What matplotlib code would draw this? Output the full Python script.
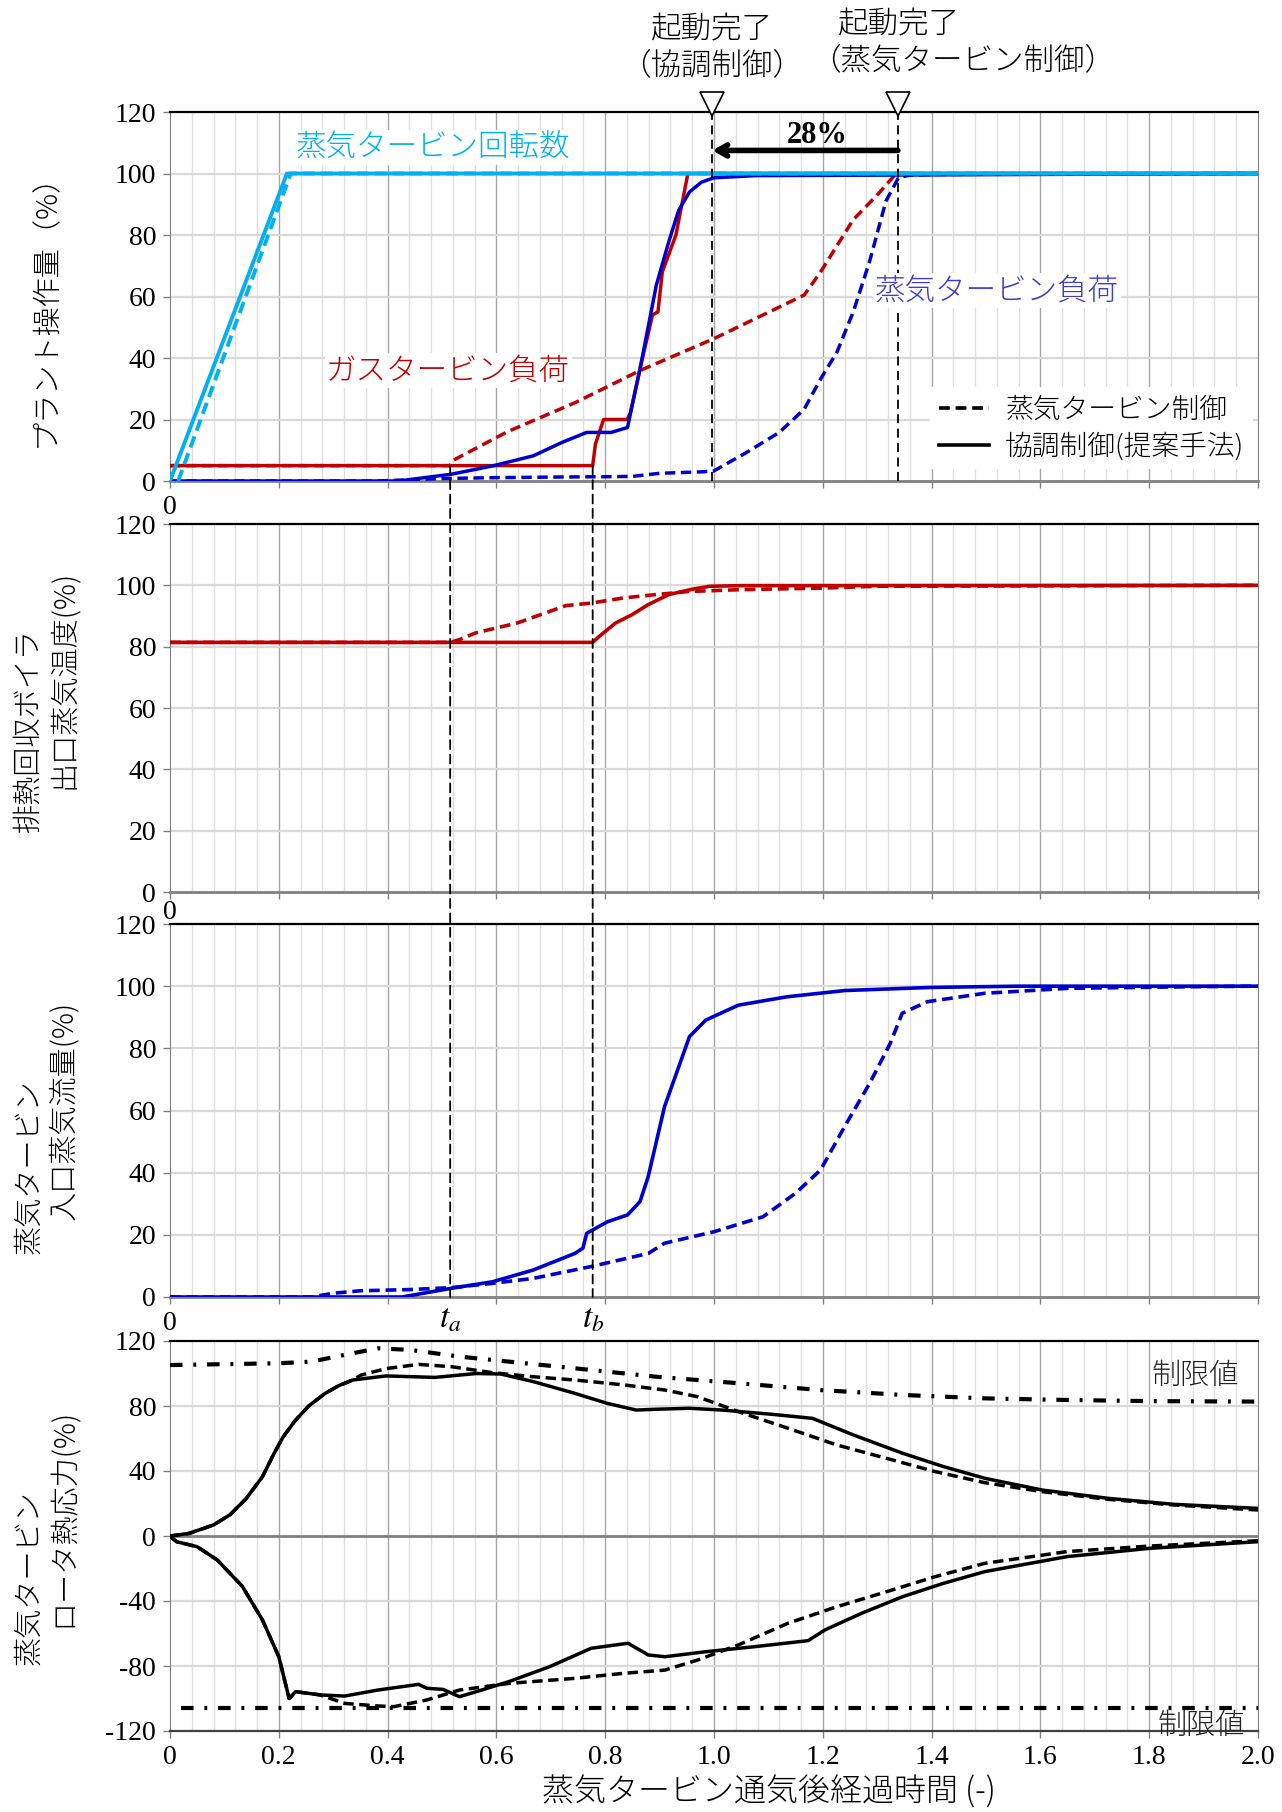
import matplotlib
matplotlib.use('Agg')
import matplotlib.pyplot as plt
from matplotlib.lines import Line2D
from matplotlib.patches import ConnectionPatch
import numpy as np

plt.rcParams['font.family'] = ['Liberation Serif', 'Noto Sans CJK JP']
plt.rcParams['mathtext.fontset'] = 'stix'
plt.rcParams['axes.unicode_minus'] = False
JP = ['Noto Sans CJK JP', 'DejaVu Sans']

RED = '#c00000'
BLUE = '#0000cc'
CYAN = '#00b0f0'

ta, tb = 0.515, 0.777
t_done_coord, t_done_st = 0.997, 1.338

# --- panel 1: プラント操作量 ---
spd_t_coord = [0.0, 0.215, 2.0]
spd_coord = [0, 100, 100]
spd_t_st = [0.015, 0.222, 2.0]
spd_st = [0, 100, 100]

gt_t_coord = [0, 0.777, 0.782, 0.797, 0.84, 0.846, 0.866, 0.887, 0.897, 0.905, 0.93, 0.952, 2.0]
gt_coord = [5, 5, 12, 20, 20, 22, 38, 54, 55, 68, 80, 100, 100]
gt_t_st = [0, 0.515, 0.518, 0.62, 0.745, 0.865, 1.0, 1.166, 1.196, 1.256, 1.3, 1.335, 2.0]
gt_st = [5, 5, 6.5, 16, 25.5, 36, 46.3, 60.5, 68, 85, 93, 100, 100]

st_t_coord = [0, 0.42, 0.517, 0.593, 0.668, 0.72, 0.766, 0.811, 0.841, 0.864, 0.894,
              0.917, 0.935, 0.955, 0.977, 1.0, 1.075, 2.0]
st_coord = [0, 0, 2.2, 4.9, 8.2, 12.5, 15.8, 15.8, 17.4, 36.5, 63.7, 77.9, 88, 94, 97.2,
            98.6, 99.3, 100]
st_t_st = [0, 0.38, 0.5, 0.6, 0.72, 0.8, 0.85, 0.9, 0.98, 1.0, 1.06, 1.12, 1.166, 1.196,
           1.226, 1.256, 1.286, 1.316, 1.339, 1.36, 1.41, 2.0]
st_st = [0, 0, 0.8, 1.1, 1.3, 1.4, 1.5, 2.5, 3.0, 3.3, 9.3, 15.8, 23.4, 33.2, 41.9, 55,
         71.4, 91, 98.6, 99.5, 99.7, 100]

# --- panel 2: 排熱回収ボイラ出口蒸気温度 ---
hrsg_t_coord = [0, 0.777, 0.79, 0.819, 0.849, 0.879, 0.917, 0.962, 0.992, 1.05, 2.0]
hrsg_coord = [81.4, 81.4, 83.5, 87.7, 90.4, 93.7, 97, 98.8, 99.7, 99.9, 100]
hrsg_t_st = [0, 0.515, 0.532, 0.562, 0.638, 0.728, 0.774, 0.834, 0.894, 0.955, 1.05, 1.2, 1.3, 2.0]
hrsg_st = [81.4, 81.4, 82.3, 84.5, 87.7, 93.4, 94.2, 95.9, 97, 98, 98.6, 99.1, 99.7, 100]

# --- panel 3: 蒸気タービン入口蒸気流量 ---
flow_t_coord = [0, 0.427, 0.517, 0.593, 0.668, 0.744, 0.759, 0.766, 0.804, 0.841, 0.864,
                0.879, 0.909, 0.955, 0.985, 1.045, 1.135, 1.241, 1.4, 1.56, 2.0]
flow_coord = [0, 0, 2.8, 4.9, 8.7, 14, 15.7, 20.5, 24.2, 26.4, 30.7, 38.7, 61.2, 83.8,
              89.1, 93.9, 96.6, 98.6, 99.6, 100, 100]
flow_t_st = [0, 0.26, 0.3, 0.35, 0.442, 0.517, 0.593, 0.668, 0.774, 0.879, 0.909, 1.0, 1.09,
             1.15, 1.196, 1.24, 1.286, 1.324, 1.346, 1.392, 1.497, 1.65, 1.87, 2.0]
flow_st = [0, 0, 1.2, 2.0, 2.4, 3, 4.4, 6, 9.8, 14, 17.3, 21, 25.8, 33.4, 40.9, 54.8, 68.7,
           81.6, 91.3, 95, 97.7, 99.3, 99.8, 100]

# --- panel 4: 蒸気タービンロータ熱応力 ---
up_t_coord = [0, 0.035, 0.08, 0.11, 0.14, 0.17, 0.19, 0.208, 0.23, 0.255, 0.284, 0.31, 0.336,
              0.397, 0.487, 0.563, 0.608, 0.668, 0.744, 0.804, 0.857, 0.894, 0.955, 1.015,
              1.106, 1.181, 1.256, 1.347, 1.422, 1.498, 1.603, 1.724, 1.845, 2.0]
up_coord = [0, 1.6, 6.8, 13, 23, 36.5, 50, 61, 71, 80, 87.5, 92.5, 96, 98.5, 97.6, 100,
            99.7, 95, 87.8, 81.6, 77.5, 78, 78.6, 77.5, 74.9, 72.4, 62.2, 50.9, 42.7, 35.5,
            28.3, 23.2, 19.5, 17]
up_t_st = [0, 0.035, 0.08, 0.11, 0.14, 0.17, 0.19, 0.208, 0.23, 0.255, 0.284, 0.31, 0.336,
           0.351, 0.397, 0.457, 0.517, 0.593, 0.668, 0.744, 0.834, 0.91, 0.97, 1.045, 1.136,
           1.226, 1.317, 1.407, 1.498, 1.603, 1.724, 1.845, 2.0]
up_st = [0, 1.6, 6.8, 13, 23, 36.5, 50, 61, 71, 80, 87.5, 92.5, 96, 99, 103, 105.6, 104.2,
         100.5, 98, 96, 93, 89.8, 85.7, 76.5, 66.3, 56, 47.8, 39.6, 32.8, 27.3, 22.6, 19.1, 16]
up_lim_t = [0, 0.2, 0.26, 0.32, 0.382, 0.442, 0.532, 0.623, 0.744, 0.894, 1.045, 1.196,
            1.347, 1.498, 1.649, 1.8, 2.0]
up_lim = [105.2, 106.3, 107.3, 111.4, 115.5, 114.5, 110.4, 107.3, 103.2, 98, 94, 89.8,
          86.8, 84.7, 83.7, 83, 82.7]

lo_t_coord = [0, 0.012, 0.05, 0.087, 0.133, 0.17, 0.2, 0.219, 0.231, 0.276, 0.321, 0.382,
              0.457, 0.472, 0.502, 0.532, 0.563, 0.623, 0.698, 0.774, 0.842, 0.879, 0.91,
              0.985, 1.075, 1.173, 1.204, 1.271, 1.347, 1.422, 1.498, 1.649, 1.8, 2.0]
lo_coord = [0, -3.5, -6.6, -14.8, -31, -51.7, -74.3, -100, -95.8, -97.8, -98.5, -94.8,
            -91.3, -93.7, -94.4, -98.9, -95.8, -89.6, -80.4, -69.1, -66, -73.2, -74.3,
            -71.2, -68.1, -64.4, -57.8, -47.6, -37.3, -29.1, -21.9, -12.7, -7.6, -3.5]
lo_t_st = [0, 0.012, 0.05, 0.087, 0.133, 0.17, 0.2, 0.219, 0.231, 0.276, 0.321, 0.382,
           0.412, 0.472, 0.532, 0.623, 0.744, 0.834, 0.91, 0.97, 1.045, 1.136, 1.226, 1.317,
           1.407, 1.498, 1.649, 1.8, 2.0]
lo_st = [0, -3.5, -6.6, -14.8, -31, -51.7, -74.3, -100, -95.8, -97.8, -103, -104.6, -105,
         -100.9, -94.8, -90.7, -87.6, -84.5, -82.5, -76.3, -67, -53.7, -43.5, -34.3, -25,
         -16.8, -9.6, -6.2, -2.9]
lo_lim_t = [0.02, 2.0]
lo_lim = [-106, -106]

xtick_vals = np.arange(0, 2.001, 0.2)
xtick_labels = ['0', '0.2', '0.4', '0.6', '0.8', '1.0', '1.2', '1.4', '1.6', '1.8', '2.0']

W, H = 1282, 1812
fig = plt.figure(figsize=(W / 100, H / 100), dpi=100)


def box(l, t, r, b):
    return [l / W, 1 - b / H, (r - l) / W, (b - t) / H]


L, R = 170, 1258
ax1 = fig.add_axes(box(L, 112, R, 481))
ax2 = fig.add_axes(box(L, 524, R, 892))
ax3 = fig.add_axes(box(L, 924, R, 1297))
ax4 = fig.add_axes(box(L, 1341, R, 1731))

DASH = (0, (3, 1.6))
DASHDOT = (0, (3, 2.6, 0.7, 2.6))


def frame(ax, ylo, yhi, ystep, full_labels=False):
    ax.set_xlim(0, 2.0)
    ax.set_ylim(ylo, yhi)
    for i in range(1, 50):
        x = i * 0.04
        ax.axvline(x, color='#a6a6a6' if i % 5 == 0 else '#dedede', lw=1.0, zorder=0)
    for y in np.arange(ylo + ystep, yhi, ystep):
        if abs(y) > 1e-9:
            ax.axhline(y, color='#d9d9d9', lw=1.6, zorder=0)
    ax.set_yticks(np.arange(ylo, yhi + 1, ystep))
    ax.set_xticks(xtick_vals)
    if full_labels:
        ax.set_xticklabels(xtick_labels)
    else:
        ax.set_xticklabels(['0'] + [''] * 10)
    ax.tick_params(labelsize=20, length=5, width=1, color='#808080', pad=5)
    ax.spines['top'].set_color('black')
    ax.spines['top'].set_linewidth(1.6)
    ax.spines['left'].set_color('#808080')
    ax.spines['right'].set_color('#808080')
    ax.spines['bottom'].set_color('#808080')
    ax.spines['bottom'].set_linewidth(2.0)


frame(ax1, 0, 120, 20)
frame(ax2, 0, 120, 20)
frame(ax3, 0, 120, 20)
frame(ax4, -120, 120, 40, full_labels=True)
ax2.tick_params(axis='x', pad=1)
ax4.spines['bottom'].set_color('#404040')
ax4.spines['bottom'].set_linewidth(1.6)
ax4.axhline(0, color='#808080', lw=2.0, zorder=1)

# panel 1
ax1.plot(gt_t_st, gt_st, color=RED, lw=2.5, ls=DASH, zorder=3)
ax1.plot(gt_t_coord, gt_coord, color=RED, lw=2.5, zorder=3)
ax1.plot(st_t_st, st_st, color=BLUE, lw=2.5, ls=DASH, zorder=3)
ax1.plot(st_t_coord, st_coord, color=BLUE, lw=2.5, zorder=3)
ax1.plot(spd_t_st, spd_st, color=CYAN, lw=2.8, ls=DASH, zorder=3.5)
ax1.plot(spd_t_coord, spd_coord, color=CYAN, lw=2.8, zorder=3.6)

for tx in (t_done_coord, t_done_st):
    ax1.plot([tx, tx], [0, 120], color='black', lw=1.3, ls=(0, (5, 3)), zorder=4)
ax1.plot([t_done_coord, t_done_st], [122.6, 122.6], marker='v', ms=17, mfc='white',
         mec='black', mew=1.2, ls='none', clip_on=False, zorder=10)
ax1.annotate('', xy=(t_done_coord, 107.5), xytext=(t_done_st, 107.5),
             arrowprops=dict(arrowstyle='->,head_length=0.7,head_width=0.4', lw=4,
                             color='black', shrinkA=0, shrinkB=0), zorder=6)
ax1.text(1.19, 112.3, '28%', ha='center', va='center', fontsize=22, fontweight='bold',
         family=['Liberation Serif'], zorder=6)

lbl_box = dict(fc='white', ec='none', pad=1)
ax1.text(0.23, 108.5, '蒸気タービン回転数', color=CYAN, fontsize=22, family=JP,
         weight='light', va='center', bbox=lbl_box, zorder=4)
ax1.text(0.287, 36, 'ガスタービン負荷', color=RED, fontsize=22, family=JP,
         weight='light', va='center', bbox=lbl_box, zorder=4)
ax1.text(1.296, 61.8, '蒸気タービン負荷', color='#3c3cd0', fontsize=22, family=JP,
         weight='light', va='center', bbox=lbl_box, zorder=4)

handles = [Line2D([], [], color='black', lw=2.6, ls=DASH),
           Line2D([], [], color='black', lw=2.6)]
leg = ax1.legend(handles, ['蒸気タービン制御', '協調制御(提案手法)'], loc='lower right',
                 bbox_to_anchor=(1.008, -0.005),
                 prop={'family': JP, 'size': 20, 'weight': 'light'},
                 frameon=True, fancybox=False, edgecolor='none', framealpha=1,
                 handlelength=1.8, handletextpad=0.6, borderpad=0.3, labelspacing=0.3)
leg.set_zorder(7)

# panel 2
ax2.plot(hrsg_t_st, hrsg_st, color=RED, lw=2.6, ls=DASH, zorder=3)
ax2.plot(hrsg_t_coord, hrsg_coord, color=RED, lw=2.6, zorder=3)

# panel 3
ax3.plot(flow_t_st, flow_st, color=BLUE, lw=2.6, ls=DASH, zorder=3)
ax3.plot(flow_t_coord, flow_coord, color=BLUE, lw=2.6, zorder=3)
xt3 = ax3.get_xaxis_transform()
ax3.text(ta, -0.06, r'$t_a$', transform=xt3, ha='center', va='center', fontsize=24)
ax3.text(tb, -0.06, r'$t_b$', transform=xt3, ha='center', va='center', fontsize=24)

# panel 4
ax4.plot(up_lim_t, up_lim, color='black', lw=3.0, ls=DASHDOT, zorder=3)
ax4.plot(lo_lim_t, lo_lim, color='black', lw=3.0, ls=DASHDOT, zorder=3)
ax4.plot(up_t_st, up_st, color='black', lw=2.5, ls=DASH, zorder=3)
ax4.plot(up_t_coord, up_coord, color='black', lw=2.5, zorder=3)
ax4.plot(lo_t_st, lo_st, color='black', lw=2.5, ls=DASH, zorder=3)
ax4.plot(lo_t_coord, lo_coord, color='black', lw=2.5, zorder=3)
ax4.text(1.885, 98.5, '制限値', fontsize=21, family=JP, weight='light', ha='center',
         va='center', color='#222222', zorder=4)
ax4.text(1.895, -117, '制限値', fontsize=21, family=JP, weight='light', ha='center',
         va='center', color='#222222', clip_on=False, zorder=4)

# t_a / t_b guide lines through panels 1-3
for tx in (ta, tb):
    con = ConnectionPatch(xyA=(tx, 5), coordsA='data', axesA=ax1,
                          xyB=(tx, 0), coordsB='data', axesB=ax3,
                          color='black', lw=1.3, ls=(0, (5, 3)), zorder=5)
    fig.add_artist(con)

# annotation texts above panel 1
ann = dict(va='center', fontsize=22, family=JP, weight='light')
fig.text(712 / W, 1 - 29 / H, '起動完了', ha='center', **ann)
fig.text(712 / W, 1 - 65 / H, '（協調制御）', ha='center', **ann)
fig.text(899 / W, 1 - 24 / H, '起動完了', ha='center', **ann)
fig.text(810 / W, 1 - 60 / H, '（蒸気タービン制御）', ha='left', **ann)

# y labels
ylab = dict(rotation=90, ha='center', va='center', fontsize=21, family=JP, weight='light')
fig.text(46 / W, 1 - 303 / H, 'プラント操作量（%）', **ylab)
fig.text(29 / W, 1 - 731 / H, '排熱回収ボイラ', **ylab)
fig.text(64 / W, 1 - 679 / H, '出口蒸気温度(%)', **ylab)
fig.text(29 / W, 1 - 1167 / H, '蒸気タービン', **ylab)
fig.text(64 / W, 1 - 1110 / H, '入口蒸気流量(%)', **ylab)
fig.text(29 / W, 1 - 1578 / H, '蒸気タービン', **ylab)
fig.text(64 / W, 1 - 1517 / H, 'ロータ熱応力(%)', **ylab)

fig.text(769 / W, 1 - 1792 / H, '蒸気タービン通気後経過時間 (-)', ha='center', va='center',
         fontsize=23, family=JP, weight='light')

fig.savefig('out.png', dpi=100)
